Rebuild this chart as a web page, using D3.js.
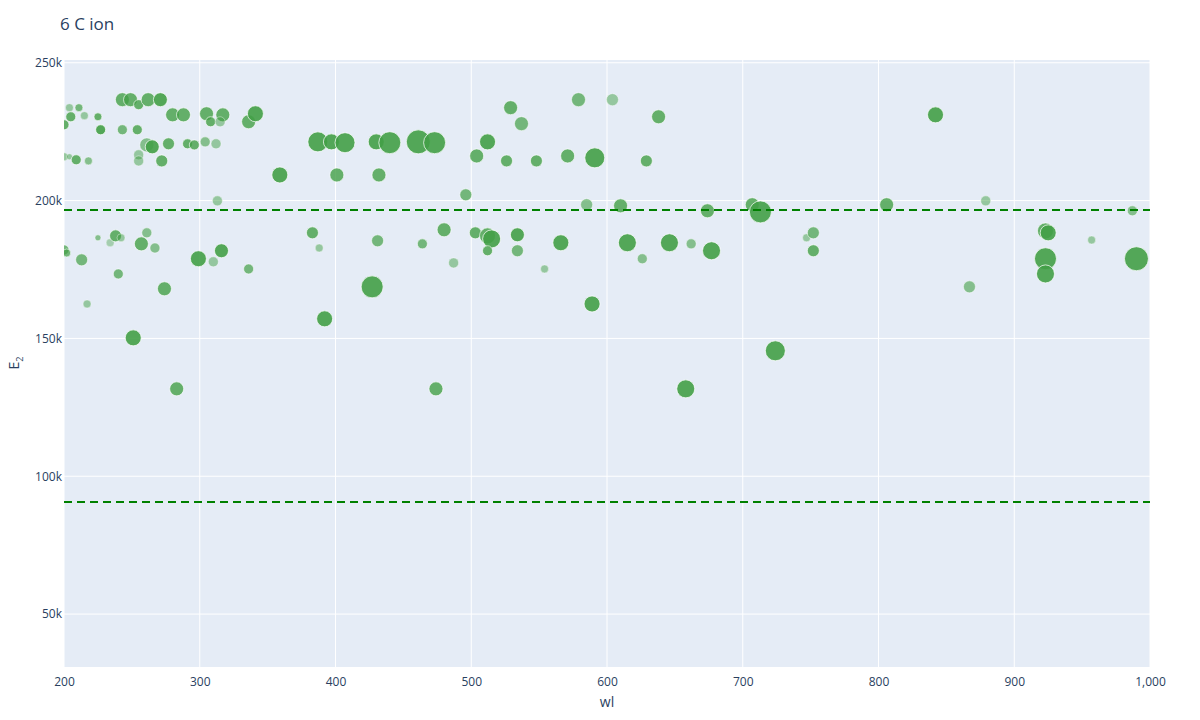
<!DOCTYPE html><html><head><meta charset="utf-8"><script src="https://cdn.jsdelivr.net/npm/d3@7"></script>
<style>body{margin:0;background:#fff;font-family:"Open Sans",Arial,sans-serif}</style></head><body><svg id="c" width="1200" height="720"></svg><script>
const title="6 C ion";
const xTicks=[200,300,400,500,600,700,800,900,1000];
const yTicks=[50000,100000,150000,200000,250000];
const hLines=[196600,90700];
// wl, E2, marker radius, opacity
const wl=[200,204,205,211,215,225,227,200,204,209,218,200,202,213,217,225,234,238,242,240,243,243,249,255,254,262,271,255,255,261,265,272,277,280,288,291,296,304,312,305,308,317,315,336,341,257,261,267,251,274,283,299,310,316,313,336,359,383,388,392,387,397,407,401,432,431,427,430,440,461,473,464,474,480,487,496,504,503,512,512,515,512,529,537,526,534,534,548,554,566,571,579,591,585,589,604,610,615,626,629,638,646,662,658,674,677,707,713,724,747,752,752,806,842,867,879,923,925,923,923,957,987,990];
const E2=[227.5,233.7,230.4,233.7,230.8,230.4,225.7,215.9,215.9,214.8,214.4,182.1,181,178.5,162.5,186.5,184.7,187.2,186.5,173.4,225.7,236.6,236.6,234.8,225.7,236.6,236.6,216.6,214.4,220.2,219.5,214.4,220.6,231.1,231.1,220.6,220.2,221.3,220.6,231.5,228.6,231.1,228.6,228.6,231.5,184.3,188.3,182.8,150.2,168,131.7,178.9,177.8,181.8,199.9,175.2,209.3,188.3,182.8,157.1,221.3,221.3,221,209.3,209.3,185.4,168.7,221.3,221,221.3,221,184.3,131.7,189.4,177.4,202.1,216.2,188.3,221.3,187.2,186.1,181.8,233.7,227.9,214.4,187.6,181.8,214.4,175.2,184.7,216.2,236.6,215.5,198.5,162.5,236.6,198.1,184.7,178.9,214.4,230.4,184.7,184.3,131.7,196.3,181.8,198.5,195.9,145.5,186.5,188.3,181.8,198.5,231.1,168.7,199.9,189,188.3,178.9,173.4,185.7,196.3,178.9].map(v=>v*1000);
const rad=[5,4,5,4,4,4,5,4,3,5,4,5,4,6,4,3,4,6,4,5,5,7,7,5,5,7,7,5,5,7,7,6,6,7,7,5,5,5,5,7,5,7,5,7,8,7,5,5,8,7,7,8,5,7,5,5,8,6,4,8,10,8,10,7,7,6,11,8,11,12,11,5,7,7,5,6,7,6,8,8,9,5,7,7,6,7,6,6,4,8,7,7,10,6,8,6,7,9,5,6,7,9,5,9,7,9,7,11,10,4,6,6,7,8,6,5,8,8,11,9,4,5,12];
const op=[.8,.5,.8,.7,.5,.8,.9,.5,.5,.8,.6,.7,.7,.7,.5,.6,.4,.8,.5,.7,.7,.8,.8,.8,.8,.8,.9,.5,.5,.6,.9,.8,.8,.8,.8,.8,.8,.6,.5,.8,.8,.8,.5,.8,.9,.8,.6,.6,.9,.8,.8,.9,.5,.9,.5,.7,.9,.8,.5,.9,.9,.9,.9,.8,.8,.7,.9,.9,.9,.9,.9,.7,.8,.8,.5,.7,.8,.8,.9,.8,.9,.8,.8,.7,.8,.9,.7,.8,.5,.9,.8,.7,.9,.6,.9,.5,.8,.9,.6,.8,.8,.9,.6,.9,.8,.9,.8,.9,.9,.5,.7,.8,.8,.9,.6,.5,.8,.9,.9,.9,.5,.6,.9];
const svg=d3.select("#c");
const m={l:64,r:1150,t:60,b:667};
const x=d3.scaleLinear().domain([200,1000]).range([m.l,m.r]);
const y=d3.scaleLinear().domain([30800,251000]).range([m.b,m.t]);
svg.append("rect").attr("x",m.l).attr("y",m.t).attr("width",m.r-m.l).attr("height",m.b-m.t).attr("fill","#e5ecf6");
const g=svg.append("g");
g.selectAll(".gx").data(xTicks).join("line").attr("x1",d=>x(d)).attr("x2",d=>x(d)).attr("y1",m.t).attr("y2",m.b).attr("stroke","#fff");
g.selectAll(".gy").data(yTicks).join("line").attr("x1",m.l).attr("x2",m.r).attr("y1",d=>y(d)).attr("y2",d=>y(d)).attr("stroke","#fff");
const xa=svg.append("g").attr("transform",`translate(0,${m.b})`).call(d3.axisBottom(x).tickValues(xTicks).tickSize(0).tickPadding(10));
const ya=svg.append("g").attr("transform",`translate(${m.l},0)`).call(d3.axisLeft(y).tickValues(yTicks).tickSize(0).tickPadding(2).tickFormat(d=>d/1000+"k"));
[xa,ya].forEach(a=>{a.select(".domain").remove();a.selectAll("text").attr("fill","#2a3f5f").style("font-size","12px").style("font-family","Open Sans, Arial")});
const clip=svg.append("clipPath").attr("id","cp").append("rect").attr("x",m.l).attr("y",m.t).attr("width",m.r-m.l).attr("height",m.b-m.t);
const pts=svg.append("g").attr("clip-path","url(#cp)");
pts.selectAll("circle").data(wl.map((w,i)=>({w,e:E2[i],r:rad[i],o:op[i]}))).join("circle")
 .attr("cx",d=>x(d.w)).attr("cy",d=>y(d.e)).attr("r",d=>d.r).attr("fill","#43a047").attr("fill-opacity",d=>d.o).attr("stroke","#fff").attr("stroke-opacity",d=>d.o).attr("stroke-width",0.8);
svg.selectAll(".hl").data(hLines).join("line").attr("x1",m.l).attr("x2",m.r).attr("y1",d=>y(d)).attr("y2",d=>y(d)).attr("stroke","green").attr("stroke-width",2).attr("stroke-dasharray","8,5");
svg.append("text").attr("x",60).attr("y",30).text(title).attr("fill","#2a3f5f").style("font-size","17px");
svg.append("text").attr("x",607).attr("y",707).attr("text-anchor","middle").text("wl").attr("fill","#2a3f5f").style("font-size","14px");
const yl=svg.append("text").attr("transform","translate(19,363) rotate(-90)").attr("text-anchor","middle").attr("fill","#2a3f5f").style("font-size","14px");
yl.append("tspan").text("E");yl.append("tspan").text("2").attr("font-size","9px").attr("dy","4");
</script></body></html>
